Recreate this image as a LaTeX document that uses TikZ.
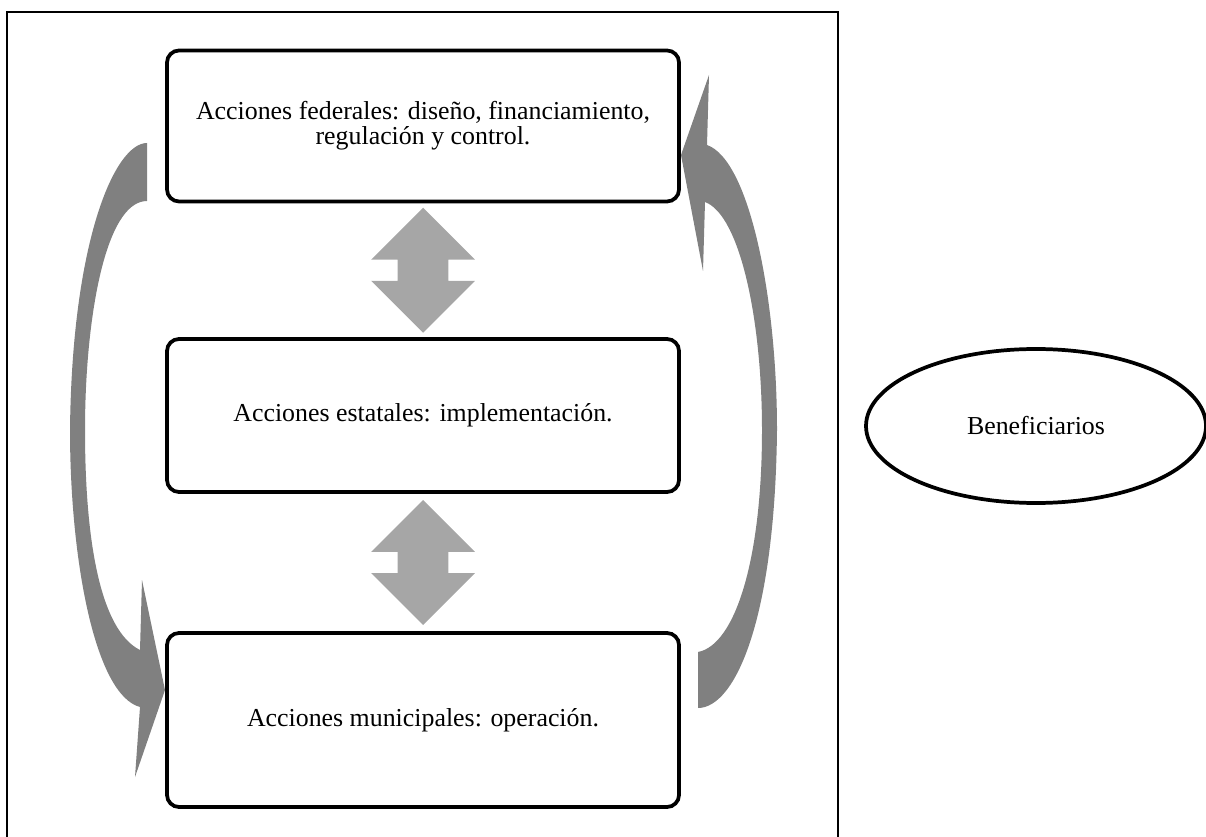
\documentclass[tikz,border=0pt]{standalone}
\usepackage{fontspec}
\setmainfont{Liberation Serif}
\usetikzlibrary{shapes.geometric,shapes.arrows,calc}
\definecolor{curvegray}{RGB}{128,128,128}
\definecolor{dblgray}{RGB}{166,166,166}

\begin{document}
\begin{tikzpicture}[
  x=0.75pt, y=-0.75pt,
  every node/.style={font=\fontsize{19.4}{18.5}\selectfont},
  box/.style={draw, line width=2.8pt, rounded corners=9pt, minimum width=384pt,
              align=center, inner sep=0pt},
  dblarr/.style={double arrow, fill=dblgray, draw=none, rotate=90,
                 minimum height=93.75pt, inner xsep=0pt, inner ysep=18.75pt,
                 double arrow head extend=19.9pt, double arrow tip angle=90, outer sep=0pt},
  curvarr/.style={fill=curvegray, draw=none},
  ellbox/.style={ellipse, draw, line width=2.8pt, minimum width=255pt,
                 minimum height=115.5pt, inner sep=0pt}
]
\useasboundingbox (0,0) rectangle (1206,837);

% Outer frame
\draw[line width=1.5pt] (7,837) -- (7,12) -- (838,12) -- (838,837);

% Levels of government
\node[box, minimum height=113.25pt] (fed) at (423,126) {Acciones federales: diseño, financiamiento,\\regulación y control.};
\node[box, minimum height=114.75pt] (est) at (423,415.5) {Acciones estatales: implementación.};
\node[box, minimum height=130.5pt]  (mun) at (423,720)   {Acciones municipales: operación.};

% Beneficiaries
\node[ellbox] (benef) at (1036,426) {Beneficiarios};

% Two-way arrows between levels
\node[dblarr] (fedest) at ($(fed.south)!0.5!(est.north)$) {};
\node[dblarr] (estmun) at ($(est.south)!0.5!(mun.north)$) {};

% Curved arrow: federal down to municipal
\fill[curvarr] (147,143) .. controls (115,143) and (72,240) .. (70,430)
  .. controls (70,560) and (95,695) .. (140,707)
  -- (135,777) -- (165,690) -- (142,580) -- (140,650)
  .. controls (100,630) and (85,540) .. (85,430)
  .. controls (85,320) and (105,201) .. (147,201) -- cycle;

% Curved arrow: municipal up to federal
\fill[curvarr] (698,708) .. controls (735,708) and (775,620) .. (777,430)
  .. controls (777,300) and (750,160) .. (707,145)
  -- (709,75) -- (681,155) -- (703,271) -- (705,202)
  .. controls (740,215) and (762,320) .. (762,430)
  .. controls (762,560) and (735,645) .. (698,652) -- cycle;
\end{tikzpicture}
\end{document}
